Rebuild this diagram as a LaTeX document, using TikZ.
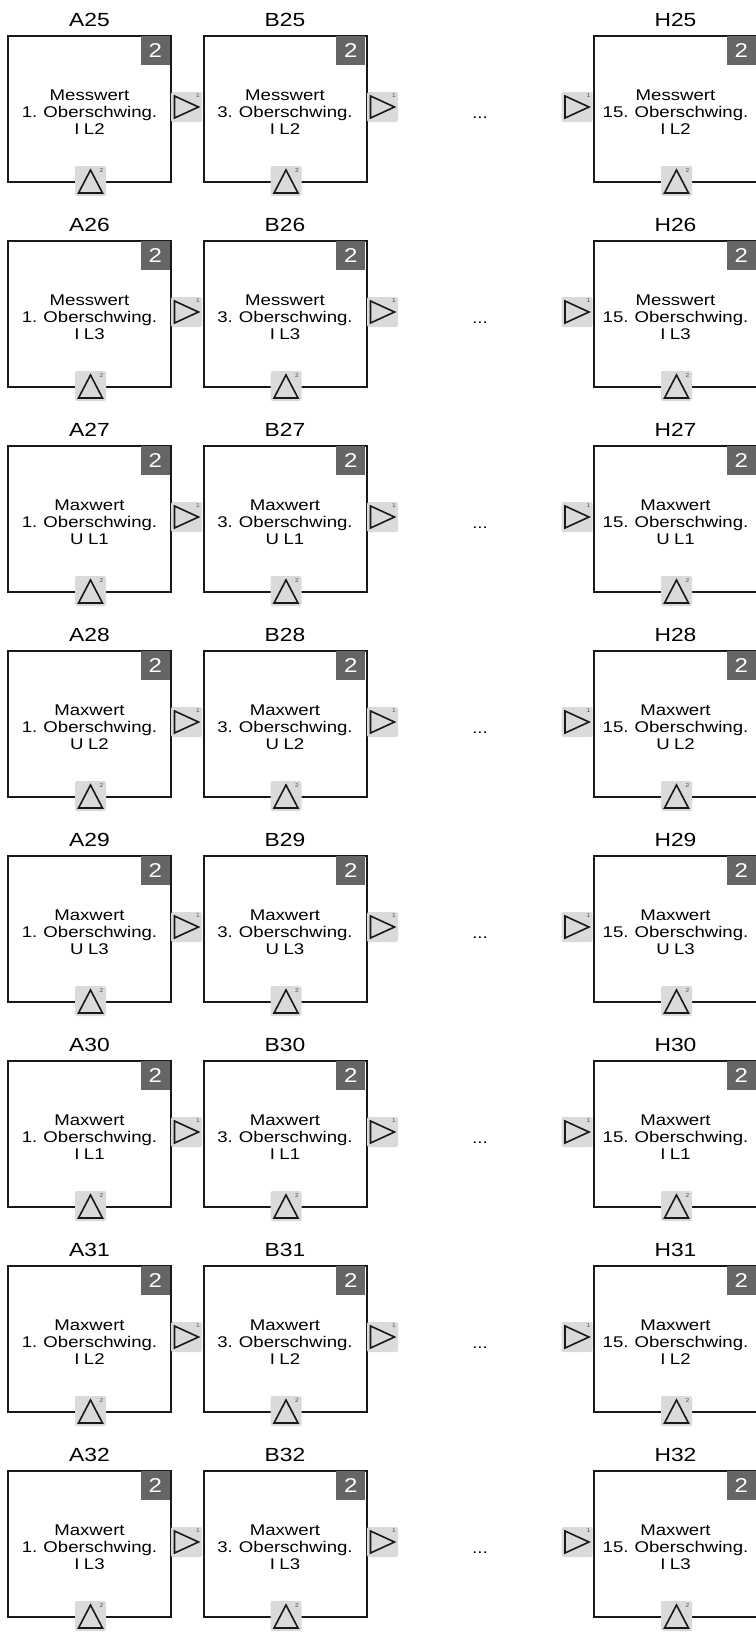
\documentclass[tikz,border=0pt]{standalone}
\usepackage{fontspec}
\setmainfont{Liberation Sans}[FakeStretch=1.2,WordSpace=0.85]
\usetikzlibrary{positioning}
\definecolor{tagdark}{HTML}{646567}
\definecolor{portgray}{HTML}{DADADA}

\begin{document}
\begin{tikzpicture}[
  x=1pt,y=-1pt,
  font=\fontsize{15.5}{17}\selectfont,
  blk/.style={draw=black!90,line width=2pt,outer sep=0pt,inner sep=0pt,
              minimum width=163pt,minimum height=146pt},
  ttl/.style={font=\fontsize{19}{19}\selectfont,anchor=base,text=black},
  txt/.style={align=center,inner sep=0pt,text=black},
  tag/.style={fill=tagdark,text=white,inner sep=0pt,minimum width=29pt,
              minimum height=28.5pt,font=\fontsize{20}{20}\selectfont,anchor=north east},
  port/.style={fill=portgray,rounded corners=2pt,inner sep=0pt,outer sep=0pt,
               minimum width=31pt,minimum height=30pt},
  tri/.style={draw=black!90,line width=1.6pt,line join=miter},
  pin/.style={font=\fontsize{5.5}{5.5}\selectfont,inner sep=0pt,text=black!70}
]
\useasboundingbox (0,0) rectangle (755,1633);
% --- one row per address 25..32 ---
\foreach \row/\num/\kind/\sig in {0/25/Messwert/I L2,1/26/Messwert/I L3,
    2/27/Maxwert/U L1,3/28/Maxwert/U L2,4/29/Maxwert/U L3,
    5/30/Maxwert/I L1,6/31/Maxwert/I L2,7/32/Maxwert/I L3}{
  \pgfmathsetmacro\cy{109+205*\row}
  % --- blocks A, B, H ---
  \foreach \col/\cx/\hnum in {A/89.5/1,B/285/3,H/675.5/15}{
    \node[ttl](t\col\num) at(\cx,\cy-83){\col\num};
    \node[blk](\col\num) at(\cx,\cy){};
    \node[tag](g\col\num) at([shift={(-1,0)}]\col\num.north east){2};
    \node[txt](x\col\num) at(\cx,\cy+3.5){\kind\\\hnum. Oberschwing.\\\sig};
    % bottom input
    \node[port](b\col\num) at(\cx+1,\cy+72){};
    \draw[tri]([shift={(-12,12)}]b\col\num.center)--([shift={(0,-11)}]b\col\num.center)
      --([shift={(12,12)}]b\col\num.center)--cycle;
    \node[pin] at([shift={(11,-10.5)}]b\col\num.center){2};
  }
  % --- side ports ---
  \node[port](oA\num) at(186.5,\cy-2){};
  \node[port](oB\num) at(382.5,\cy-2){};
  \node[port](iH\num) at(577,\cy-2){};
  \foreach \p in {oA\num,oB\num,iH\num}{
    \draw[tri]([shift={(-12,-11)}]\p.center)--([shift={(12,0)}]\p.center)
      --([shift={(-12,11)}]\p.center)--cycle;
    \node[pin] at([shift={(11.5,-11)}]\p.center){1};
  }
  \node[anchor=base](dots\num) at(480,\cy+9.5){...};
}
\end{tikzpicture}
\end{document}
